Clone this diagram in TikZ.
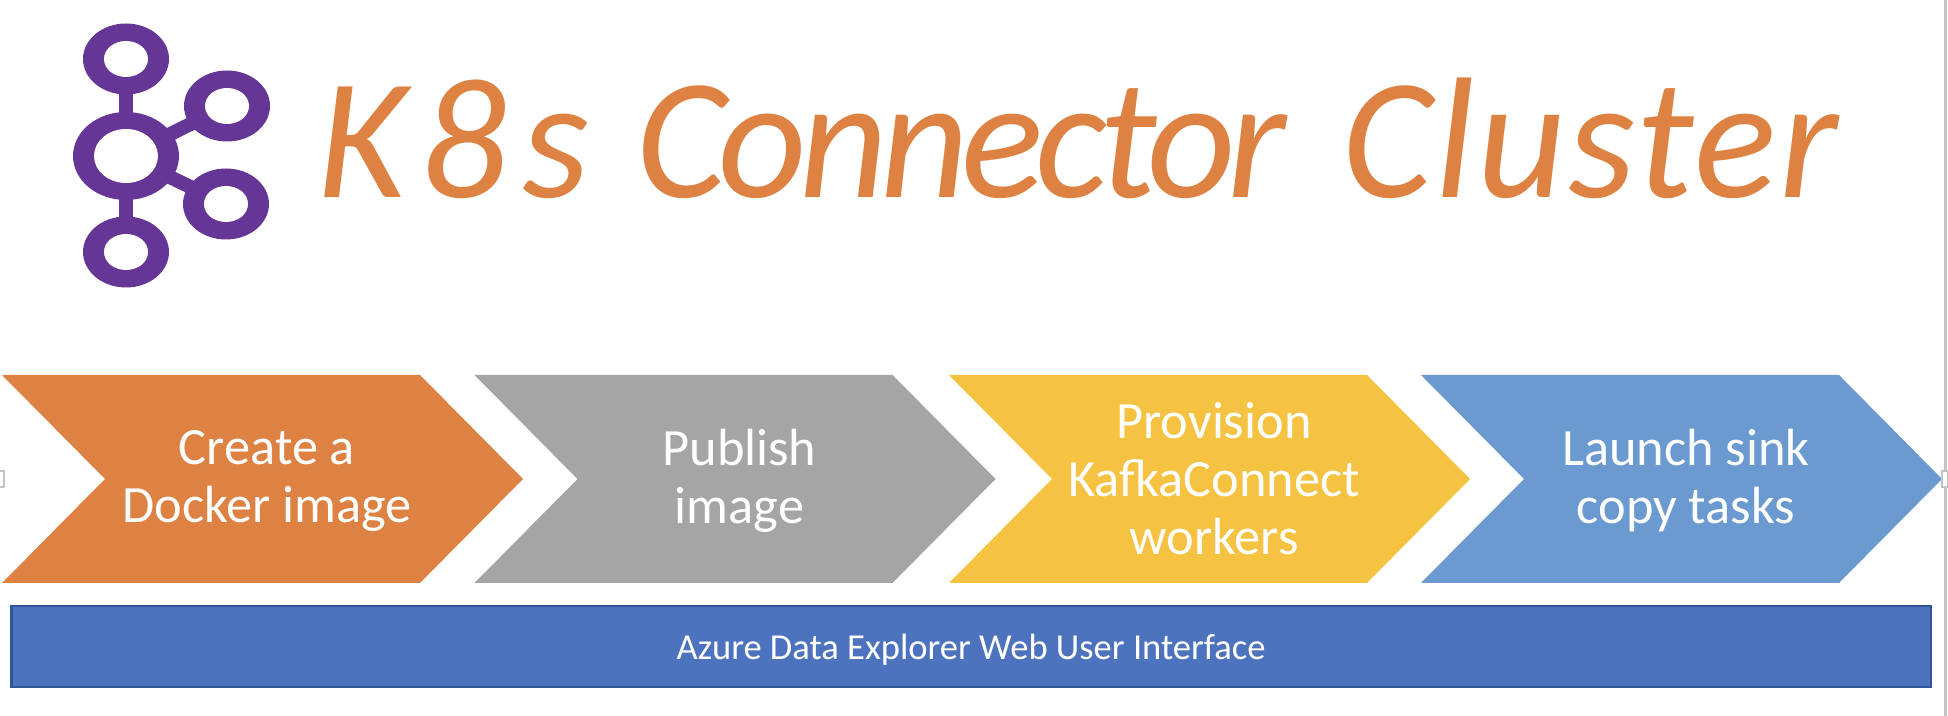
\documentclass[tikz,border=0pt]{standalone}
\usepackage{fontspec}
\setmainfont{Carlito}
\usepackage{xcolor}
\usetikzlibrary{shapes.geometric}
\definecolor{logopurple}{HTML}{663697}
\definecolor{steporange}{HTML}{DE8243}
\definecolor{stepgray}{HTML}{A5A5A5}
\definecolor{stepyellow}{HTML}{F5C242}
\definecolor{stepblue}{HTML}{6B9AD1}
\definecolor{barblue}{HTML}{4E73BE}
\definecolor{barline}{HTML}{2F5597}
\definecolor{edgegray}{HTML}{C4C4C4}
\tikzset{
	ringout/.style={ellipse,fill=logopurple,inner sep=0pt,minimum width=.86cm,minimum height=.71cm},
	ringin/.style={ellipse,fill=white,inner sep=0pt,minimum width=.44cm,minimum height=.36cm},
	spoke/.style={logopurple,line width=.14cm,shorten <=-3pt,shorten >=-3pt},
	steptext/.style={text=white,align=center,font=\fontsize{14.9}{16.5}\selectfont},
	handle/.style={draw=edgegray,fill=white,line width=.02cm,inner sep=0pt,minimum width=.06cm,minimum height=.16cm},
}

\begin{document}
\begin{tikzpicture}
	\useasboundingbox (0,0) rectangle (19.48,7.16);

	% logo
	\foreach \n/\x/\y in {top/1.26/6.57,upper/2.27/6.10,lower/2.26/5.12,bottom/1.26/4.64}{
		\node[ringout] (\n) at (\x,\y) {};
		\node[ringin] (\n in) at (\n) {};
	}
	\node[ringout,minimum width=1.06cm,minimum height=.88cm] (hub) at (1.26,5.60) {};
	\node[ringin,minimum width=.64cm,minimum height=.54cm] (hub in) at (hub) {};
	\foreach \n in {top,upper,lower,bottom}
		\draw[spoke] (hub) -- (\n);

	\node[text=steporange,anchor=base west,inner sep=0pt,font=\fontsize{49}{49}\itshape] (title) at (3.17,5.18) {{\addfontfeature{LetterSpace=8}K8s} \hspace{.05em}{\addfontfeature{LetterSpace=-4.5}Connector} \hspace{.1em}{\addfontfeature{LetterSpace=1.5}Cluster}};

	% chevrons
	\foreach \x/\c/\n/\y/\t in {.02/steporange/docker/2.35/{Create a\\Docker image},
		4.745/stepgray/publish/2.35/{Publish\\image},
		9.49/stepyellow/workers/2.37/{Provision\\KafkaConnect\\workers},
		14.21/stepblue/sink/2.35/{Launch sink\\copy tasks}}{
		\fill[\c] (\x,3.41)--(\x+4.18,3.41)--(\x+5.21,2.37)--(\x+4.18,1.33)--(\x,1.33)--(\x+1.03,2.37)--cycle;
		\node[steptext] (\n) at (\x+2.65,\y) {\t};
	}

	\node[draw=barline,line width=.02cm,fill=barblue,text=white,minimum width=19.19cm,minimum height=.81cm,inner sep=0pt,text height=.33cm,text depth=.07cm,font=\fontsize{10.4}{12}\selectfont] (bar) at (9.71,.695) {Azure Data Explorer Web User Interface};

	% edge of the page, with its two handles
	\draw[edgegray,line width=.03cm] (19.455,0)--(19.455,7.16);
	\node[handle] (rhandle) at (19.45,2.37) {};
	\node[handle] (lhandle) at (.01,2.37) {};
\end{tikzpicture}
\end{document}
